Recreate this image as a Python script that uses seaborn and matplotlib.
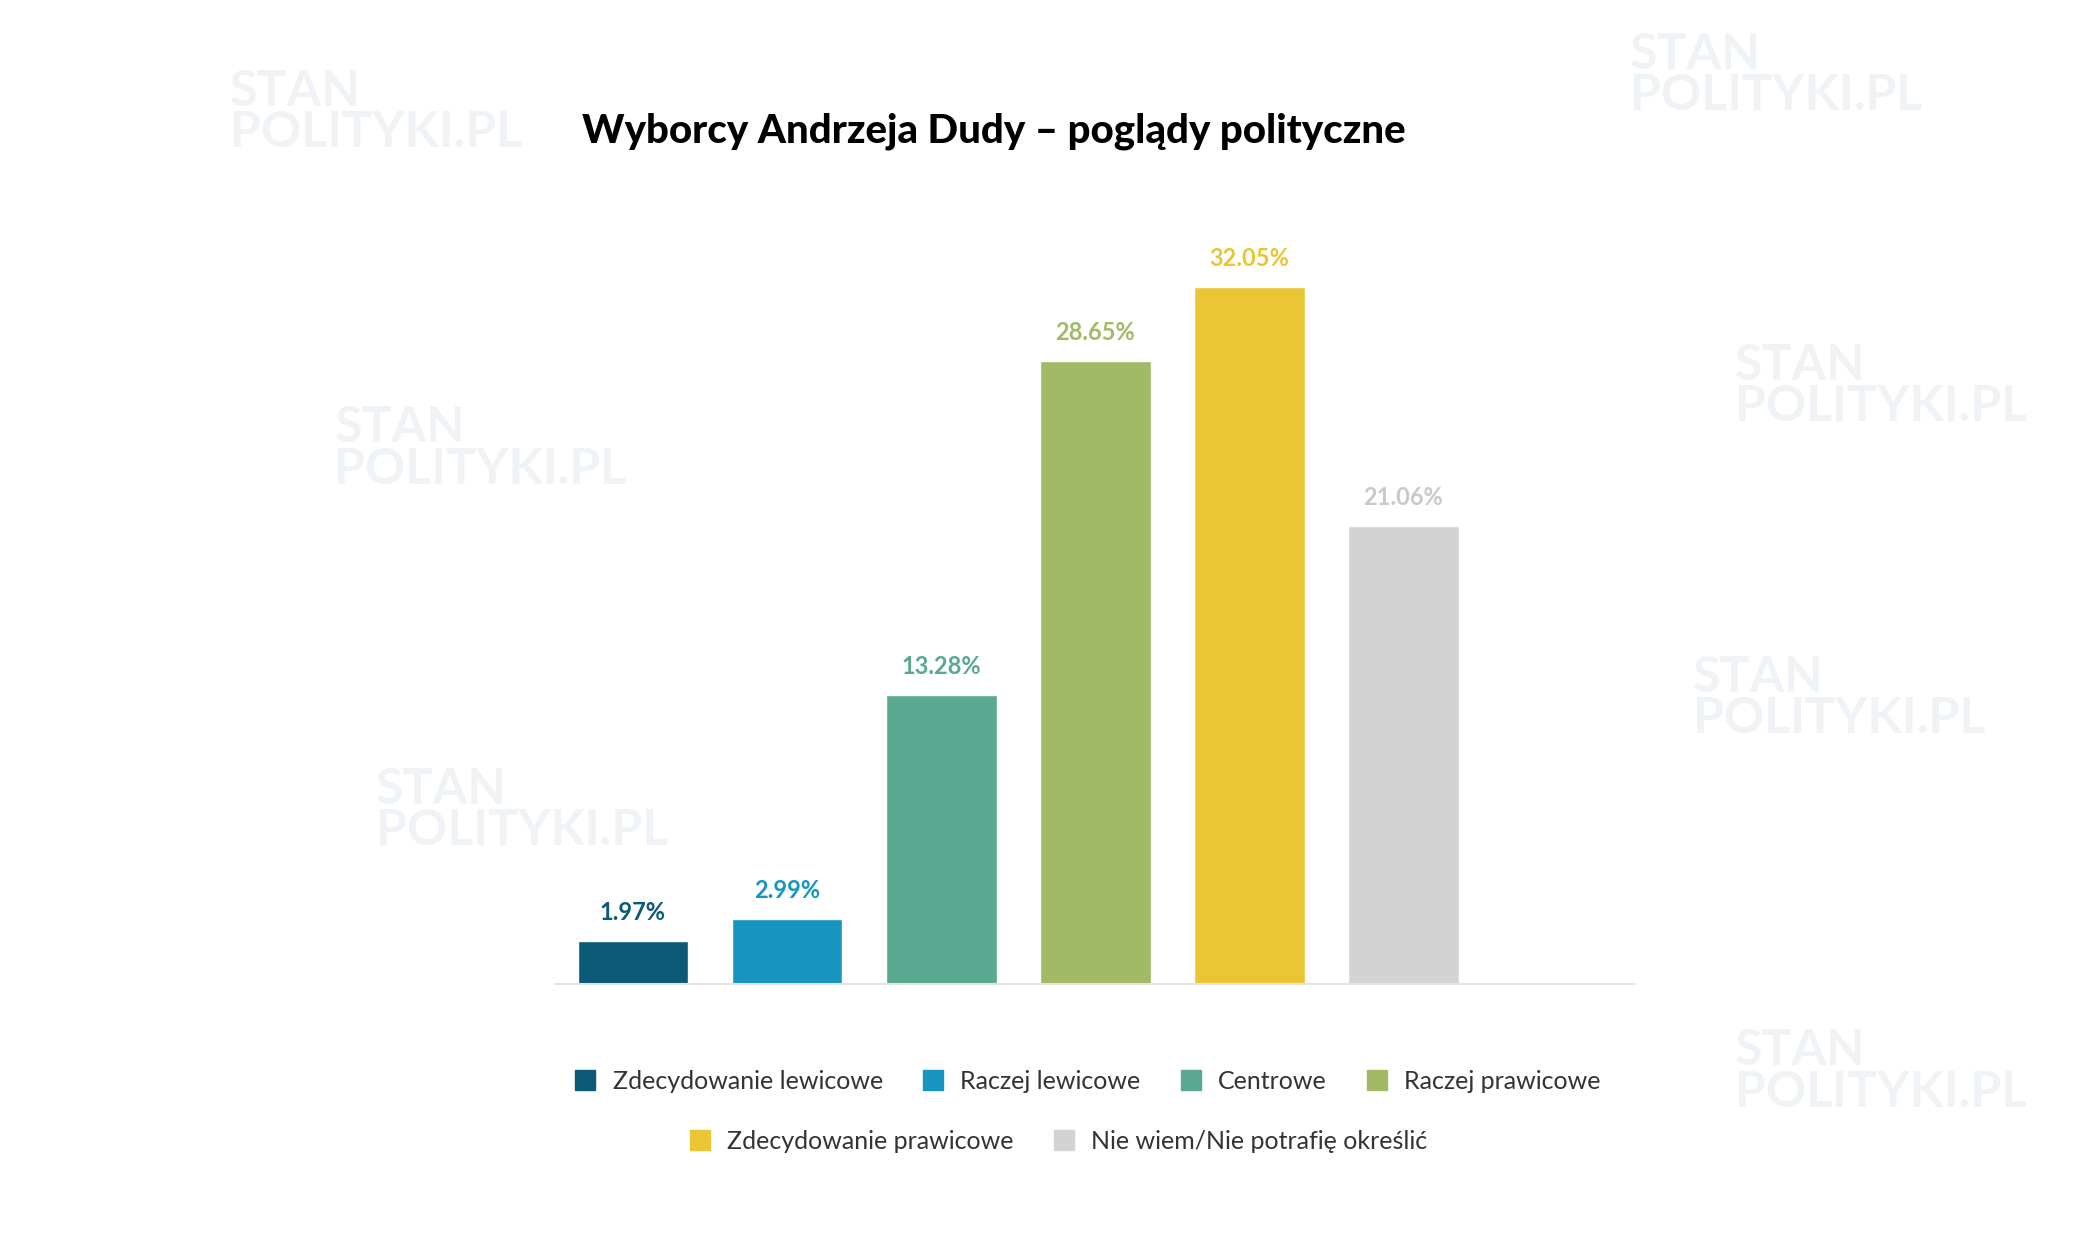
import matplotlib
matplotlib.use("Agg")
import matplotlib.pyplot as plt
import seaborn as sns
import pandas as pd
from matplotlib.lines import Line2D

categories = ["Zdecydowanie lewicowe", "Raczej lewicowe", "Centrowe", "Raczej prawicowe",
              "Zdecydowanie prawicowe", "Nie wiem/Nie potrafię określić"]
values = [1.97, 2.99, 13.28, 28.65, 32.05, 21.06]
colors = ["#0b5a78", "#1795c0", "#58a98f", "#a2b965", "#eac634", "#d3d3d3"]
label_colors = ["#0b5a78", "#1795c0", "#58a98f", "#a2b965", "#eac634", "#c9c9c9"]

sns.set_style("white")
plt.rcParams['font.family'] = ['Lato', 'DejaVu Sans']

fig = plt.figure(figsize=(20.9, 12.46), dpi=100)

# faint watermark (behind everything)
for (x, y) in [(0.11, 0.91), (0.78, 0.94), (0.16, 0.64), (0.83, 0.69),
               (0.18, 0.35), (0.81, 0.44), (0.83, 0.14)]:
    fig.text(x, y, "STAN\nPOLITYKI.PL", fontsize=36, fontweight='bold', color="#f0f3f6",
             ha='left', va='center', linespacing=0.9, zorder=-5)

ax = fig.add_axes([0.266, 0.21, 0.516, 0.611])
ax.set_zorder(2)
ax.patch.set_alpha(0)
df = pd.DataFrame({"cat": categories, "val": values})
sns.barplot(data=df, x="cat", y="val", hue="cat", palette=colors, order=categories,
            width=0.72, legend=False, ax=ax, saturation=1)
ax.set_xlim(-0.5, 6.5)
ax.set_ylim(0, 35)
for i, v in enumerate(values):
    ax.text(i, v + 0.8, f"{v:.2f}%", ha='center', va='bottom', fontsize=17,
            fontweight='bold', color=label_colors[i])
for s in ["top", "right", "left"]:
    ax.spines[s].set_visible(False)
ax.spines["bottom"].set_color("#e3e3e3")
ax.spines["bottom"].set_linewidth(1.5)
ax.set_xticks([])
ax.set_yticks([])
ax.set_xlabel("")
ax.set_ylabel("")

fig.text(0.4755, 0.895, "Wyborcy Andrzeja Dudy – poglądy polityczne", ha='center', va='center',
         fontsize=29, fontweight='black', color='black', zorder=3)

def handles(idx):
    return [Line2D([0], [0], marker='s', linestyle='', markersize=15, markerfacecolor=colors[i],
                   markeredgecolor=colors[i]) for i in idx]

kw = dict(frameon=False, fontsize=18, handletextpad=0.1, columnspacing=1.0, loc='center',
          labelcolor="#333333")
fig.legend(handles(range(4)), categories[:4], ncol=4, bbox_to_anchor=(0.517, 0.132), **kw)
fig.legend(handles(range(4, 6)), categories[4:], ncol=2, bbox_to_anchor=(0.503, 0.084), **kw)

fig.savefig("out.png", dpi=100, facecolor="white")
